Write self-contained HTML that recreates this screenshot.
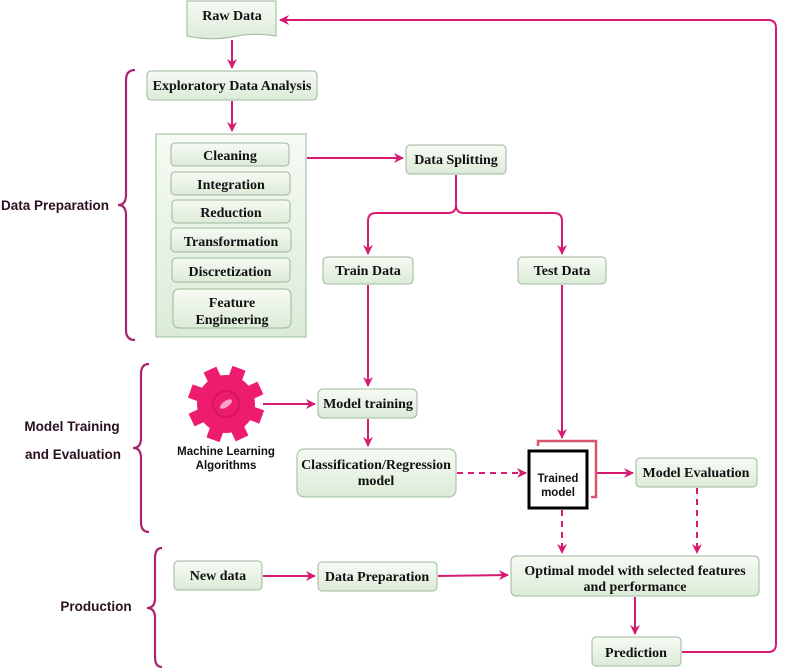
<!DOCTYPE html>
<html><head><meta charset="utf-8"><style>
html,body{margin:0;padding:0;background:#fff}
svg{display:block}
.b{fill:url(#g);stroke:#9cb89c;stroke-width:1}
.t{font-family:"Liberation Serif",serif;font-weight:bold;font-size:14px;fill:#111;text-anchor:middle}
.s{font-family:"Liberation Sans",sans-serif;font-weight:bold;fill:#2a1020;text-anchor:middle}
.a{stroke:#d81b72;stroke-width:2;fill:none}
.d{stroke:#d81b72;stroke-width:2;fill:none;stroke-dasharray:6,5}
.br{stroke:#a8246e;stroke-width:2.2;fill:none}
</style></head><body>
<svg width="787" height="669" viewBox="0 0 787 669" xmlns="http://www.w3.org/2000/svg">
<defs>
<linearGradient id="g" x1="0" y1="0" x2="0" y2="1"><stop offset="0" stop-color="#f6fbf4"/><stop offset="1" stop-color="#dcebd8"/></linearGradient>
<marker id="m" viewBox="0 0 10 10" refX="9" refY="5" markerWidth="5" markerHeight="5" orient="auto"><path d="M0,0 L10,5 L0,10 L3,5 Z" fill="#d81b72"/></marker>
</defs>
<path class="br" d="M135,70 Q126,70 126,80 L126,195 Q126,205 118,205 Q126,205 126,215 L126,330 Q126,340 135,340"/>
<path class="br" d="M149,364 Q141,364 141,374 L141,438 Q141,448 133,448 Q141,448 141,458 L141,522 Q141,532 149,532"/>
<path class="br" d="M162,548 Q155,548 155,558 L155,598 Q155,608 147,608 Q155,608 155,618 L155,657 Q155,667 162,667"/>
<text class="s" x="55" y="210" font-size="13.5">Data Preparation</text>
<text class="s" x="72" y="431" font-size="13.5">Model Training</text>
<text class="s" x="73" y="459" font-size="13.5">and Evaluation</text>
<text class="s" x="96" y="611" font-size="13.5">Production</text>
<path class="b" d="M187,1 L276,1 L276,36 Q254,32 232,37 Q210,41 187,36 Z"/>
<text class="t" x="232" y="20">Raw Data</text>
<rect class="b" x="147" y="71" width="170" height="29" rx="4"/>
<text class="t" x="232" y="90">Exploratory Data Analysis</text>
<rect class="b" x="156" y="134" width="150" height="203"/>
<rect class="b" x="171" y="143" width="118" height="23" rx="4"/><text class="t" x="230" y="160">Cleaning</text>
<rect class="b" x="171" y="172" width="119" height="23" rx="4"/><text class="t" x="231" y="189">Integration</text>
<rect class="b" x="172" y="200" width="118" height="23" rx="4"/><text class="t" x="231" y="217">Reduction</text>
<rect class="b" x="171" y="228" width="120" height="24" rx="4"/><text class="t" x="231" y="246">Transformation</text>
<rect class="b" x="172" y="258" width="118" height="24" rx="4"/><text class="t" x="230" y="276">Discretization</text>
<rect class="b" x="173" y="289" width="118" height="39" rx="6"/><text class="t" x="232" y="307">Feature</text><text class="t" x="232" y="324">Engineering</text>
<rect class="b" x="406" y="145" width="100" height="29" rx="4"/><text class="t" x="456" y="164">Data Splitting</text>
<rect class="b" x="323" y="257" width="90" height="27" rx="4"/><text class="t" x="368" y="275">Train Data</text>
<rect class="b" x="518" y="257" width="88" height="27" rx="4"/><text class="t" x="562" y="275">Test Data</text>
<rect class="b" x="318" y="389" width="99" height="29" rx="5"/><text class="t" x="368" y="408">Model training</text>
<rect class="b" x="297" y="449" width="159" height="48" rx="7"/><text class="t" x="376" y="469">Classification/Regression</text><text class="t" x="376" y="485">model</text>
<rect x="529" y="451" width="58" height="57" fill="#fff" stroke="#000" stroke-width="3"/>
<text class="s" x="558" y="482" font-size="11.5" style="fill:#111">Trained</text>
<text class="s" x="558" y="496" font-size="11.5" style="fill:#111">model</text>
<path d="M538,446 L538,441 L596,441 L596,497 L591,497" stroke="#d9546e" stroke-width="2.5" fill="none"/>
<rect class="b" x="636" y="458" width="121" height="29" rx="4"/><text class="t" x="696" y="477">Model Evaluation</text>
<rect class="b" x="511" y="556" width="248" height="40" rx="5"/><text class="t" x="635" y="575">Optimal model with selected features</text><text class="t" x="635" y="591">and performance</text>
<rect class="b" x="174" y="561" width="88" height="29" rx="4"/><text class="t" x="218" y="580">New data</text>
<rect class="b" x="318" y="562" width="119" height="29" rx="4"/><text class="t" x="377" y="581">Data Preparation</text>
<rect class="b" x="592" y="637" width="89" height="29" rx="4"/><text class="t" x="636" y="657">Prediction</text>
<g transform="translate(226,404)" fill="#ee1c6e">
<circle r="29"/>
<g transform="rotate(20)"><rect x="-7" y="-38" width="14" height="76"/><rect x="-7" y="-38" width="14" height="76" transform="rotate(45)"/><rect x="-7" y="-38" width="14" height="76" transform="rotate(90)"/><rect x="-7" y="-38" width="14" height="76" transform="rotate(135)"/></g>
<circle r="13" fill="none" stroke="#d8145f" stroke-width="2"/>
<ellipse rx="7" ry="3" fill="#f9a3c4" transform="rotate(-35)"/>
</g>
<text class="s" x="226" y="455" font-size="11.5" style="fill:#111">Machine Learning</text>
<text class="s" x="226" y="469" font-size="11.5" style="fill:#111">Algorithms</text>
<path class="a" marker-end="url(#m)" d="M232,40 L232,68"/>
<path class="a" marker-end="url(#m)" d="M232,101 L232,131"/>
<path class="a" marker-end="url(#m)" d="M307,158 L403,158"/>
<path class="a" marker-end="url(#m)" d="M456,175 L456,205 Q456,213 448,213 L376,213 Q368,213 368,221 L368,254"/>
<path class="a" marker-end="url(#m)" d="M456,205 Q456,213 464,213 L554,213 Q562,213 562,221 L562,254"/>
<path class="a" marker-end="url(#m)" d="M368,285 L368,386"/>
<path class="a" marker-end="url(#m)" d="M562,285 L562,438"/>
<path class="a" marker-end="url(#m)" d="M263,404 L315,404"/>
<path class="a" marker-end="url(#m)" d="M368,419 L368,446"/>
<path class="d" marker-end="url(#m)" d="M457,473 L526,473"/>
<path class="a" marker-end="url(#m)" d="M597,473 L633,473"/>
<path class="d" marker-end="url(#m)" d="M562,510 L562,553"/>
<path class="d" marker-end="url(#m)" d="M697,488 L697,553"/>
<path class="a" marker-end="url(#m)" d="M263,576 L315,576"/>
<path class="a" marker-end="url(#m)" d="M438,576 L508,575"/>
<path class="a" marker-end="url(#m)" d="M635,597 L635,634"/>
<path class="a" marker-end="url(#m)" d="M682,652 L768,652 Q776,652 776,644 L776,28 Q776,20 768,20 L280,20"/>
</svg>
</body></html>
